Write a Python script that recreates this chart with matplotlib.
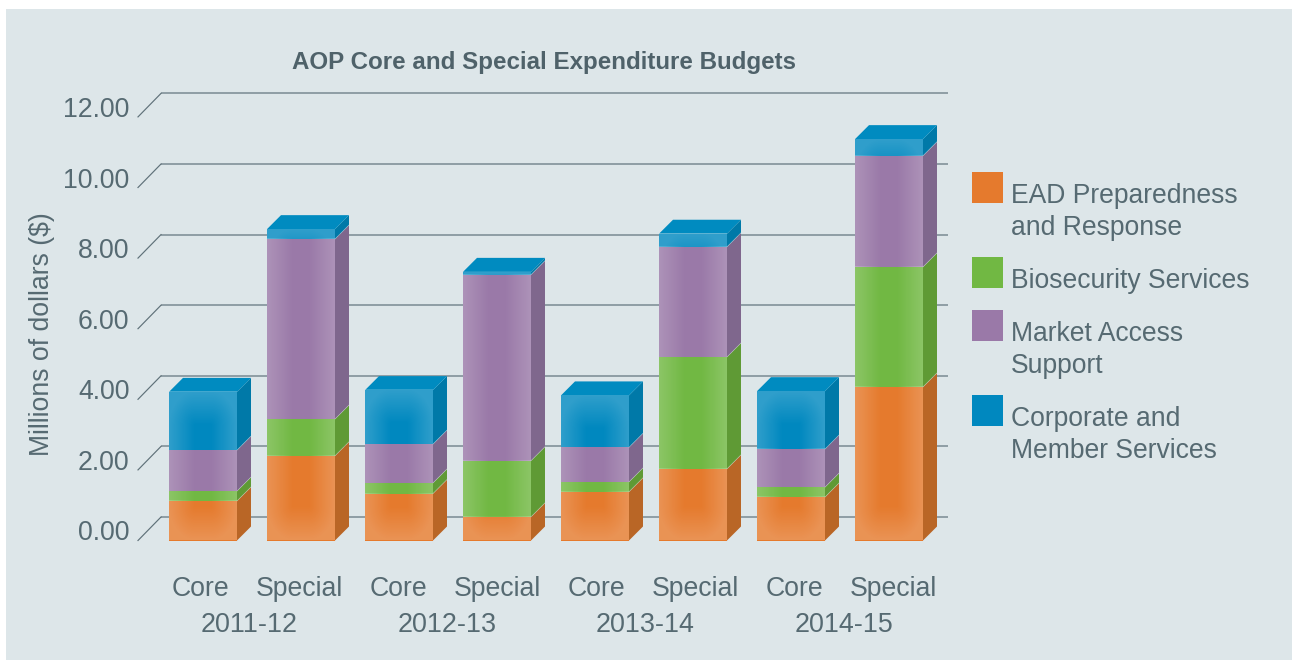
import numpy as np
import matplotlib
matplotlib.use('Agg')
import matplotlib.pyplot as plt
from matplotlib.patches import Polygon, Rectangle
from matplotlib.transforms import Affine2D

plt.rcParams['font.family'] = ['Liberation Sans', 'DejaVu Sans']

years = ['2011-12', '2012-13', '2013-14', '2014-15']
bar_labels = ['Core', 'Special'] * 4
series_names = ['EAD Preparedness\nand Response', 'Biosecurity Services',
                'Market Access\nSupport', 'Corporate and\nMember Services']

ead = [1.12, 2.40, 1.33, 0.67, 1.38, 2.03, 1.23, 4.35]
biosecurity = [0.28, 1.04, 0.30, 1.59, 0.28, 3.17, 0.28, 3.40]
market = [1.16, 5.10, 1.10, 5.27, 0.98, 3.12, 1.08, 3.15]
corporate = [1.65, 0.28, 1.53, 0.08, 1.47, 0.37, 1.64, 0.47]
y_ticks = [0, 2, 4, 6, 8, 10, 12]

front_cols = ['#e57a2d', '#71b843', '#9a79a8', '#0088bf']
side_cols = ['#b96626', '#5f9a35', '#7f678d', '#0079a8']
top_col = '#008bc0'
panel_col = '#dde6e9'
text_col = '#566a72'

W, H = 1292, 661
fig = plt.figure(figsize=(W / 100, H / 100), dpi=100, facecolor='white')
ax = fig.add_axes([0, 0, 1, 1])
ax.axis('off')

# one x unit is one bar slot, y is in millions, origin sits on the front floor edge
slot_px = 98.0
unit_px = 35.3
x0_px = 203.0
y0_px = 540.5
ax.set_xlim(-x0_px / slot_px, (W - x0_px) / slot_px)
ax.set_ylim((y0_px - H) / unit_px, y0_px / unit_px)
ax.autoscale(False)
bar_w = 68 / slot_px
dx, dy = 14 / slot_px, 14 / unit_px
back_dx, back_dy = 23 / slot_px, 23.5 / unit_px
grid_end = (948 - x0_px) / slot_px

# helper transform for things placed by pixel position
px = Affine2D().scale(1, -1).translate(0, H)

fig.patches.append(Rectangle((6, 9), W - 6, 651, transform=px, fc=panel_col, ec='none', zorder=-5))

# back wall lines and the slanted floor ticks
for v in y_ticks:
    x_start = (138 - x0_px) / slot_px
    ax.plot([x_start + back_dx, grid_end], [v + back_dy, v + back_dy], color='#7d8e95', lw=1.15, zorder=1,
            solid_capstyle='butt')
    ax.plot([x_start, x_start + back_dx], [v, v + back_dy], color='#5f7179', lw=0.85, zorder=1)
    ax.text(x_start - 8.5 / slot_px, v + 7 / unit_px, f'{v:.2f}', ha='right', va='center', fontsize=19.2,
            color=text_col)


def shade(left, bottom, width, height, seg):
    # white overlay, strong along the sides and on the outer ends of the stack
    h_px = height * unit_px
    n_y = max(int(h_px), 2)
    xs = np.linspace(0, 68, 69)
    ys = np.linspace(0, h_px, n_y)
    a_x = np.clip(1 - np.minimum(xs, 68 - xs) / 26, 0, 1)
    a_y = np.zeros(n_y)
    if seg == 0:
        a_y = np.clip(1 - ys / 34, 0, 1)
    if seg == 3:
        a_y = np.clip(1 - (h_px - ys) / 34, 0, 1)
    a = np.clip(np.hypot(a_x[None, :], a_y[:, None]), 0, 1) * 0.19
    rgba = np.ones((n_y, 69, 4))
    rgba[..., 3] = a
    ax.imshow(rgba, extent=(left, left + width, bottom, bottom + height), origin='lower', aspect='auto',
              interpolation='bilinear', zorder=3)


stacks = np.array([ead, biosecurity, market, corporate])
for i in range(stacks.shape[1]):
    bottom = 0.0
    left = i - bar_w / 2
    right = i + bar_w / 2
    for seg in range(4):
        val = stacks[seg, i]
        ax.bar(i, val, bar_w, bottom=bottom, color=front_cols[seg], lw=0, zorder=2)
        shade(left, bottom, bar_w, val, seg)
        ax.add_patch(Polygon([(right, bottom), (right + dx, bottom + dy), (right + dx, bottom + val + dy),
                              (right, bottom + val)], closed=True, fc=side_cols[seg], ec='none', zorder=2))
        if seg > 0:
            ax.plot([right, right + dx], [bottom, bottom + dy], color='#dfe6e8', lw=0.5, alpha=0.45, zorder=4)
        bottom += val
    ax.add_patch(Polygon([(left, bottom), (left + dx, bottom + dy), (right + dx, bottom + dy), (right, bottom)],
                         closed=True, fc=top_col, ec='none', zorder=2))
    # category captions run on a slightly wider pitch than the bars
    label_x = (200 + 99 * i - x0_px) / slot_px
    ax.text(label_x, -49 / unit_px, bar_labels[i], ha='center', va='center', fontsize=19.2, color=text_col)

for j, yr in enumerate(years):
    ax.text((249.5 + 198 * j - x0_px) / slot_px, -84.5 / unit_px, yr, ha='center', va='center', fontsize=19.4,
            color=text_col)

ax.text(543.5, 62, 'AOP Core and Special Expenditure Budgets', transform=px, ha='center', va='center', fontsize=17.4,
        fontweight='bold', color='#4f626a')
ax.text(42, 334.5, 'Millions of dollars ($)', transform=px, rotation=90, ha='center', va='center', fontsize=19.2,
        color=text_col)

# legend, swatches are aligned to the first text line
legend_y = [172, 257, 310, 395]
for name, col, y in zip(series_names, front_cols, legend_y):
    fig.patches.append(Rectangle((972, y), 31, 31, transform=px, fc=col, ec='none'))
    for k, line in enumerate(name.split('\n')):
        ax.text(1011, y + 24 + 32 * k, line, transform=px, ha='left', va='center', fontsize=19.1, color=text_col)

fig.savefig('out.png', dpi=100, facecolor='white')
